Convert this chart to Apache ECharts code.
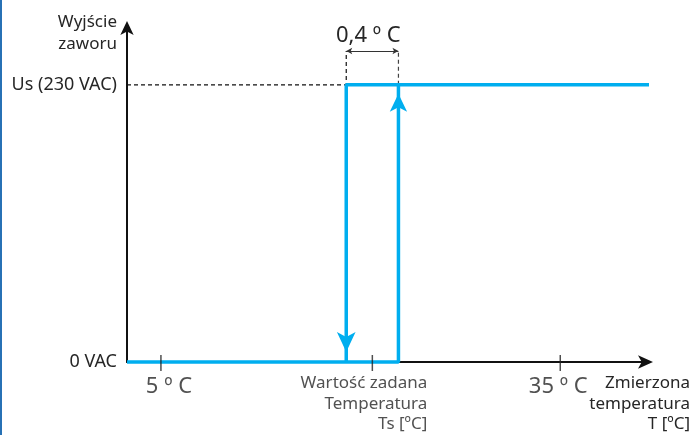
<!DOCTYPE html>
<html>
<head>
<meta charset="utf-8">
<title>Histereza</title>
<script src="https://cdn.jsdelivr.net/npm/echarts@6/dist/echarts.min.js"></script>
<style>
  html, body { margin: 0; padding: 0; background: #fff; }
  #main { width: 694px; height: 435px; }
</style>
</head>
<body>
<div id="main"></div>
<script>
// schematic units (not to scale): x 0..100 along temperature, y 0..100 along output
var xMax = 100, yMax = 100;
var usLevel = 82;        // Us (230 VAC)
var offLevel = 0;        // 0 VAC
var switchOff = 42;      // output drops here
var switchOn = 52;       // output rises here
var dimLevel = 92;       // height of the 0,4 ºC dimension
var tickPos = [6.5, 47, 83];
var tickText = ['5 º C', 'Wartość zadana\nTemperatura\nTs [ºC]', '35 º C'];
var yLabelPos = [0, 82];
var yLabelText = ['0 VAC', 'Us (230 VAC)'];
var hystText = '0,4 º C';

var font = 'Noto Sans';
var textColor = '#262626';
var blue = '#00aeef';

var myChart = echarts.init(document.getElementById('main'));

var tickData = tickPos.map(function (x, i) {
  var lbl = { show: true, position: 'bottom', distance: 2.4, formatter: tickText[i],
              fontFamily: font, color: textColor };
  if (i == 1) {
    lbl.fontSize = 17; lbl.lineHeight = 20.5; lbl.align = 'right'; lbl.offset = [55, 0];
  } else {
    lbl.fontSize = 22; lbl.lineHeight = 26; lbl.offset = [i == 0 ? 8 : -2, 0];
  }
  return { value: [x, 0], label: lbl };
});

var option = {
  animation: false,
  graphic: [{ type: 'rect', left: 0, top: 0, shape: { width: 2, height: 435 }, style: { fill: '#2771b5' } }],
  grid: { left: 127, right: 45, top: 24, bottom: 73 },
  xAxis: {
    type: 'value', min: 0, max: xMax,
    name: 'Zmierzona\ntemperatura\nT [ºC]', nameLocation: 'end', nameGap: 41,
    nameTextStyle: { align: 'right', verticalAlign: 'top', padding: [11, 0, 0, 0],
                     fontSize: 17, lineHeight: 20.5, color: textColor, fontFamily: font },
    axisLine: { show: true, onZero: false, symbol: ['none', 'arrow'], symbolSize: [10, 15],
                symbolOffset: [0, 4], lineStyle: { color: '#111', width: 2 } },
    axisTick: { show: false },
    axisLabel: { show: false },
    splitLine: { show: false }
  },
  yAxis: {
    type: 'value', min: 0, max: yMax,
    name: 'Wyjście\nzaworu', nameLocation: 'end', nameGap: 13,
    nameTextStyle: { align: 'right', verticalAlign: 'top', padding: [0, 10, 0, 0],
                     fontSize: 17, lineHeight: 22, color: textColor, fontFamily: font },
    axisLine: { show: true, symbol: ['none', 'arrow'], symbolSize: [10, 14],
                symbolOffset: [0, 3], lineStyle: { color: '#111', width: 2 } },
    axisTick: { show: false },
    splitLine: { show: false },
    axisLabel: {
      customValues: yLabelPos, margin: 10, fontSize: 18, color: textColor, fontFamily: font,
      formatter: function (v) { return yLabelText[yLabelPos.indexOf(v)]; }
    }
  },
  series: [
    {
      name: 'guide', type: 'line', silent: true, clip: false, symbol: 'none', z: 1,
      data: [[0, usLevel], [switchOff, usLevel], [switchOff, dimLevel]],
      lineStyle: { color: '#111', width: 1.2, type: [4, 3] }
    },
    {
      name: 'guide2', type: 'line', silent: true, clip: false, symbol: 'none', z: 1,
      data: [[switchOn, usLevel], [switchOn, dimLevel]],
      lineStyle: { color: '#444', width: 1.2, type: [4, 3] },
      markLine: {
        silent: true, symbol: ['arrow', 'arrow'], symbolSize: [5, 6],
        lineStyle: { type: 'solid', color: '#333', width: 1 },
        label: { show: true, position: 'insideMiddleTop', distance: 3, formatter: hystText,
                 offset: [-4, 0], fontSize: 22, lineHeight: 24, color: textColor, fontFamily: font },
        emphasis: { disabled: true },
        data: [[{ coord: [switchOff, dimLevel] }, { coord: [switchOn, dimLevel] }]]
      }
    },
    {
      name: 'high', type: 'line', silent: true, clip: false, symbol: 'none', showSymbol: true, z: 3,
      data: [[xMax, usLevel], [switchOff, usLevel],
             { value: [switchOff, offLevel], symbol: 'arrow', symbolSize: [14, 20],
               symbolRotate: 180, symbolOffset: [0, -10] }],
      lineStyle: { color: blue, width: 3.5 },
      itemStyle: { color: blue }
    },
    {
      name: 'low', type: 'line', silent: true, clip: false, symbol: 'none', showSymbol: true, z: 3,
      data: [[0, offLevel], [switchOn, offLevel],
             { value: [switchOn, usLevel], symbol: 'arrow', symbolSize: [13, 18],
               symbolOffset: [0, 9] }],
      lineStyle: { color: blue, width: 3.5 },
      itemStyle: { color: blue }
    },
    {
      name: 'ticks', type: 'scatter', silent: true, z: 4,
      symbol: 'rect', symbolSize: [1.5, 16], symbolOffset: [0, 1],
      itemStyle: { color: '#222' },
      data: tickData
    }
  ]
};

myChart.setOption(option);
</script>
</body>
</html>
